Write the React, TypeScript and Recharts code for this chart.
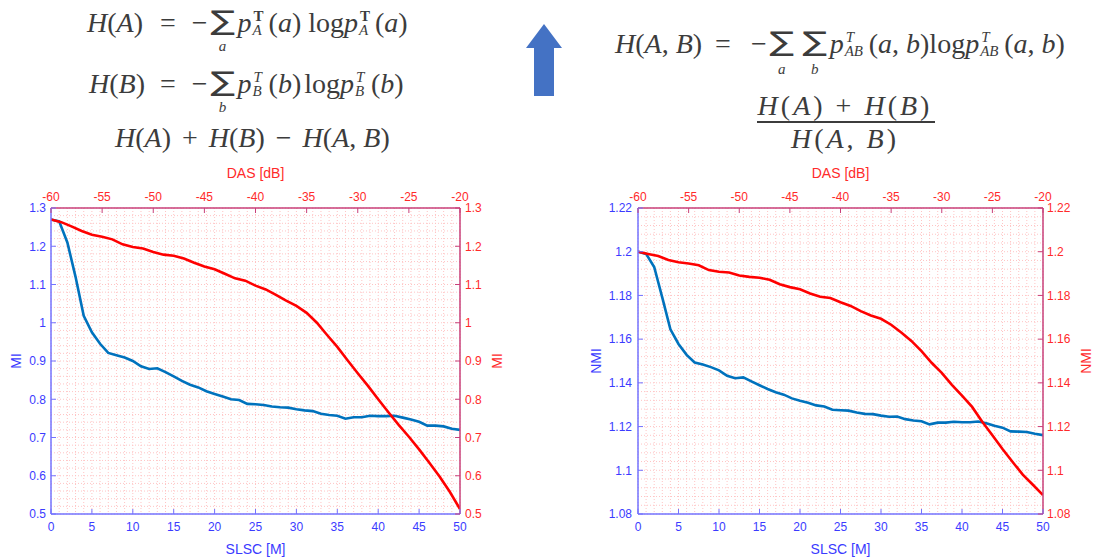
import React from "react";
import { LineChart, Line, XAxis, YAxis, CartesianGrid, Label } from "recharts";

// ---- axis ticks ----
const slscTicks = [0, 5, 10, 15, 20, 25, 30, 35, 40, 45, 50];
const dasTicks = [-60, -55, -50, -45, -40, -35, -30, -25, -20];
const miTicks = [0.5, 0.6, 0.7, 0.8, 0.9, 1, 1.1, 1.2, 1.3];
const nmiTicks = [1.08, 1.1, 1.12, 1.14, 1.16, 1.18, 1.2, 1.22];

// ---- MI panel (left) ----
const miSlscM = [
  0, 1, 2, 3, 4, 5, 6, 7, 8, 9, 10, 11, 12, 13, 14, 15, 16, 17, 18, 19, 20, 21, 22, 23, 24, 25,
  26, 27, 28, 29, 30, 31, 32, 33, 34, 35, 36, 37, 38, 39, 40, 41, 42, 43, 44, 45, 46, 47, 48, 49, 50,
];
const miSlsc = [
  1.27, 1.265, 1.21, 1.12, 1.018, 0.975, 0.945, 0.921, 0.915, 0.909, 0.9, 0.886, 0.879, 0.881,
  0.871, 0.86, 0.848, 0.838, 0.831, 0.821, 0.814, 0.807, 0.8, 0.798, 0.788, 0.787, 0.785, 0.781,
  0.779, 0.778, 0.774, 0.771, 0.769, 0.762, 0.759, 0.757, 0.749, 0.753, 0.753, 0.757, 0.756, 0.756,
  0.757, 0.752, 0.747, 0.741, 0.731, 0.731, 0.729, 0.723, 0.72,
];
const miDasDb = [
  -60, -59, -58, -57, -56, -55, -54, -53, -52, -51, -50, -49, -48, -47, -46, -45, -44, -43, -42,
  -41, -40, -39, -38, -37, -36, -35, -34, -33, -32, -31, -30, -29, -28, -27, -26, -25, -24, -23,
  -22, -21, -20,
];
const miDas = [
  1.27, 1.263, 1.252, 1.24, 1.23, 1.225, 1.218, 1.205, 1.198, 1.194, 1.185, 1.178, 1.175, 1.168,
  1.157, 1.147, 1.14, 1.128, 1.116, 1.11, 1.097, 1.087, 1.073, 1.058, 1.044, 1.026, 1.0, 0.968,
  0.937, 0.902, 0.868, 0.835, 0.8, 0.766, 0.733, 0.702, 0.669, 0.634, 0.598, 0.558, 0.513,
];

// ---- NMI panel (right) ----
const nmiSlscM = miSlscM;
const nmiSlsc = [
  1.2, 1.199, 1.193, 1.179, 1.1645, 1.1578, 1.1528, 1.1493, 1.1484, 1.1472, 1.1457, 1.1432, 1.1421,
  1.1425, 1.1407, 1.1389, 1.1372, 1.1357, 1.1346, 1.1329, 1.1318, 1.1309, 1.1297, 1.1292, 1.1277,
  1.1275, 1.1273, 1.1264, 1.1258, 1.1257, 1.125, 1.1245, 1.1246, 1.1234, 1.1228, 1.1224, 1.121,
  1.1218, 1.1218, 1.1222, 1.122, 1.122, 1.1223, 1.1215, 1.1204, 1.1195, 1.1178, 1.1177, 1.1175,
  1.1167, 1.1161,
];
const nmiDasDb = miDasDb;
const nmiDas = [
  1.2, 1.199, 1.198, 1.1962, 1.1952, 1.1946, 1.1938, 1.1916, 1.1908, 1.1905, 1.1891, 1.1885,
  1.1881, 1.1872, 1.1851, 1.1838, 1.1828, 1.1809, 1.1794, 1.1788, 1.1769, 1.1752, 1.1728, 1.1708,
  1.1693, 1.1666, 1.163, 1.1592, 1.1545, 1.1492, 1.1446, 1.1391, 1.1342, 1.129, 1.1222, 1.116,
  1.1097, 1.1038, 1.098, 1.0934, 1.0887,
];

// minor grid positions (style only)
const steps = (a: number, b: number, s: number) =>
  Array.from({ length: Math.round((b - a) / s) + 1 }, (_, i) => +(a + i * s).toFixed(4));
const slscMinor = steps(0, 50, 1);
const miMinor = steps(0.5, 1.3, 0.02);
const nmiMinor = steps(1.08, 1.22, 0.004);

const rows = (xs: number[], vs: number[]) => xs.map((x, i) => ({ x, v: vs[i] }));

const SANS = '"Liberation Sans", Arial, sans-serif';
const SERIF = '"Liberation Serif", "DejaVu Serif", serif';
const INK = "#3c3c3c";
const BLUE_TXT = "#3b3bff";
const RED_TXT = "#ff2a2a";
const BLUE_AX = "#7373ff";
const RED_AX = "#c8407a";
const GRID = "#ffc4c4";

const fmt = (v: number) => String(+v.toFixed(3));

type Side = "top" | "bottom" | "left" | "right";

function makeTick(side: Side, color: string, lineColor: string, gap: number) {
  const len = 5;
  return (props: any) => {
    const { x = 0, y = 0, payload } = props;
    const text = fmt(payload?.value ?? 0);
    const common = { fill: color, fontSize: 12, fontFamily: SANS };
    if (side === "bottom") {
      const a = y - gap;
      return (
        <g>
          <line x1={x} x2={x} y1={a} y2={a - len} stroke={lineColor} />
          <text x={x} y={y} dy="0.72em" textAnchor="middle" {...common}>{text}</text>
        </g>
      );
    }
    if (side === "top") {
      const a = y + gap;
      return (
        <g>
          <line x1={x} x2={x} y1={a} y2={a + len} stroke={lineColor} />
          <text x={x} y={y} textAnchor="middle" {...common}>{text}</text>
        </g>
      );
    }
    if (side === "left") {
      const a = x + gap;
      return (
        <g>
          <line x1={a} x2={a + len} y1={y} y2={y} stroke={lineColor} />
          <text x={x} y={y} dy="0.36em" textAnchor="end" {...common}>{text}</text>
        </g>
      );
    }
    const a = x - gap;
    return (
      <g>
        <line x1={a} x2={a - len} y1={y} y2={y} stroke={lineColor} />
        <text x={x} y={y} dy="0.36em" textAnchor="start" {...common}>{text}</text>
      </g>
    );
  };
}

type PanelProps = {
  width: number;
  leftW: number;
  rightW: number;
  yTicks: number[];
  yMinor: number[];
  yTitle: string;
  slscRows: { x: number; v: number }[];
  dasRows: { x: number; v: number }[];
  leftTitleOffset: number;
  rightTitleOffset: number;
  leftGap: number;
  rightGap: number;
};

function Panel(p: PanelProps) {
  const domain: [number, number] = [p.yTicks[0], p.yTicks[p.yTicks.length - 1]];
  return (
    <LineChart width={p.width} height={398} margin={{ top: 0, right: 0, bottom: 0, left: 0 }}>
      <CartesianGrid
        xAxisId="slsc"
        yAxisId="left"
        verticalValues={slscMinor}
        horizontalValues={p.yMinor}
        stroke={GRID}
        strokeDasharray="1 2"
      />
      <XAxis
        xAxisId="slsc"
        dataKey="x"
        type="number"
        orientation="bottom"
        domain={[0, 50]}
        ticks={slscTicks}
        interval={0}
        height={44}
        allowDataOverflow
        axisLine={{ stroke: BLUE_AX, strokeWidth: 1.5 }}
        tickLine={false}
        tickSize={0}
        tickMargin={8}
        tick={makeTick("bottom", BLUE_TXT, BLUE_AX, 8)}
      >
        <Label value="SLSC [M]" position="insideBottom" offset={4} fill={BLUE_TXT} fontSize={14} fontFamily={SANS} />
      </XAxis>
      <XAxis
        xAxisId="das"
        dataKey="x"
        type="number"
        orientation="top"
        domain={[-60, -20]}
        ticks={dasTicks}
        interval={0}
        height={48}
        allowDataOverflow
        axisLine={{ stroke: RED_AX, strokeWidth: 1.5 }}
        tickLine={false}
        tickSize={0}
        tickMargin={7}
        tick={makeTick("top", RED_TXT, RED_AX, 7)}
      >
        <Label value="DAS [dB]" position="insideTop" offset={8} fill={RED_TXT} fontSize={14} fontFamily={SANS} />
      </XAxis>
      <YAxis
        yAxisId="left"
        orientation="left"
        width={p.leftW}
        domain={domain}
        ticks={p.yTicks}
        interval={0}
        allowDataOverflow
        axisLine={{ stroke: BLUE_AX, strokeWidth: 1.5 }}
        tickLine={false}
        tickSize={0}
        tickMargin={p.leftGap}
        tick={makeTick("left", BLUE_TXT, BLUE_AX, p.leftGap)}
      >
        <Label
          value={p.yTitle}
          angle={-90}
          position="insideLeft"
          offset={p.leftTitleOffset}
          fill={BLUE_TXT}
          fontSize={14}
          fontFamily={SANS}
          style={{ textAnchor: "middle" }}
        />
      </YAxis>
      <YAxis
        yAxisId="right"
        orientation="right"
        width={p.rightW}
        domain={domain}
        ticks={p.yTicks}
        interval={0}
        allowDataOverflow
        axisLine={{ stroke: RED_AX, strokeWidth: 1.5 }}
        tickLine={false}
        tickSize={0}
        tickMargin={p.rightGap}
        tick={makeTick("right", RED_TXT, RED_AX, p.rightGap)}
      >
        <Label
          value={p.yTitle}
          angle={-90}
          position="insideRight"
          offset={p.rightTitleOffset}
          fill={RED_TXT}
          fontSize={14}
          fontFamily={SANS}
          style={{ textAnchor: "middle" }}
        />
      </YAxis>
      <Line
        xAxisId="slsc"
        yAxisId="left"
        data={p.slscRows}
        dataKey="v"
        stroke="#0072bd"
        strokeWidth={2.6}
        dot={false}
        isAnimationActive={false}
      />
      <Line
        xAxisId="das"
        yAxisId="right"
        data={p.dasRows}
        dataKey="v"
        stroke="#ff0000"
        strokeWidth={2.6}
        dot={false}
        isAnimationActive={false}
      />
    </LineChart>
  );
}

// ---- formula pieces ----
const Gap = ({ w }: { w: number }) => <span style={{ display: "inline-block", width: w }} />;

// zero-height box sitting on the baseline, glyphs placed inside it
function Sum({ under, below = 18 }: { under: string; below?: number }) {
  return (
    <span style={{ position: "relative", display: "inline-block", width: 30, height: 0 }}>
      <span
        style={{
          position: "absolute",
          left: 0,
          width: 30,
          bottom: -1,
          textAlign: "center",
          fontFamily: '"DejaVu Sans", sans-serif',
          fontSize: 27,
          lineHeight: 0.9,
          fontStyle: "normal",
          transform: "scaleX(1.35)",
        }}
      >
        ∑
      </span>
      <span
        style={{
          position: "absolute",
          left: 0,
          width: 30,
          top: below - 11,
          textAlign: "center",
          fontSize: 15,
          lineHeight: 1,
          fontStyle: "italic",
        }}
      >
        {under}
      </span>
    </span>
  );
}

function Scripts({ sup, sub, w, bold }: { sup: string; sub: string; w: number; bold?: boolean }) {
  return (
    <span style={{ position: "relative", display: "inline-block", width: w, height: 0 }}>
      <span
        style={{
          position: "absolute",
          left: 2,
          bottom: 8,
          fontSize: 15,
          lineHeight: 1,
          fontStyle: bold ? "normal" : "italic",
          fontWeight: bold ? "bold" : "normal",
        }}
      >
        {sup}
      </span>
      <span style={{ position: "absolute", left: 1, top: -9, fontSize: 15, lineHeight: 1, fontStyle: "italic" }}>
        {sub}
      </span>
    </span>
  );
}

const lineStyle = (left: number, top: number, spacing = 0): React.CSSProperties => ({
  position: "absolute",
  left,
  top,
  fontFamily: SERIF,
  fontSize: 28,
  lineHeight: 1,
  letterSpacing: spacing,
  color: INK,
  whiteSpace: "nowrap",
});

function Formulas() {
  return (
    <>
      <div style={lineStyle(87, 9)}>
        <i>H</i>(<i>A</i>)<Gap w={17} />=<Gap w={16} />−<Sum under="a" />
        <i>p</i>
        <Scripts sup="T" sub="A" w={17} bold />(<i>a</i>)<Gap w={7} />log<i>p</i>
        <Scripts sup="T" sub="A" w={17} bold />(<i>a</i>)
      </div>
      <div style={lineStyle(89, 70)}>
        <i>H</i>(<i>B</i>)<Gap w={15} />=<Gap w={16} />−<Sum under="b" />
        <i>p</i>
        <Scripts sup="T" sub="B" w={17} />(<i>b</i>)<Gap w={3} />log<i>p</i>
        <Scripts sup="T" sub="B" w={17} />(<i>b</i>)
      </div>
      <div style={lineStyle(115, 124)}>
        <i>H</i>(<i>A</i>)<Gap w={11} />+<Gap w={11} />
        <i>H</i>(<i>B</i>)<Gap w={11} />−<Gap w={11} />
        <i>H</i>(<i>A</i>, <i>B</i>)
      </div>

      <svg style={{ position: "absolute", left: 526, top: 24 }} width={37} height={73}>
        <polygon points="18,0 36,24 28,24 28,72 8,72 8,24 0,24" fill="#4472c4" />
      </svg>

      <div style={lineStyle(615, 30)}>
        <i>H</i>(<i>A</i>, <i>B</i>)<Gap w={13} />=<Gap w={20} />−<Sum under="a" below={20} />
        <Gap w={3} />
        <Sum under="b" below={20} />
        <i>p</i>
        <Scripts sup="T" sub="AB" w={25} />(<i>a</i>, <i>b</i>)log<i>p</i>
        <Scripts sup="T" sub="AB" w={25} />(<i>a</i>, <i>b</i>)
      </div>
      <div style={{ ...lineStyle(752, 92, 3), width: 186, textAlign: "center" }}>
        <i>H</i>(<i>A</i>) + <i>H</i>(<i>B</i>)
      </div>
      <div style={{ position: "absolute", left: 757, top: 121, width: 178, height: 2, background: INK }} />
      <div style={{ ...lineStyle(752, 125, 3), width: 186, textAlign: "center" }}>
        <i>H</i>(<i>A</i>, <i>B</i>)
      </div>
    </>
  );
}

export default function App() {
  return (
    <div
      style={{
        position: "absolute",
        left: 0,
        top: 0,
        width: 1098,
        height: 558,
        background: "#ffffff",
        overflow: "hidden",
      }}
    >
      <Formulas />
      <div style={{ position: "absolute", left: 0, top: 160 }}>
        <Panel
          width={520}
          leftW={51}
          rightW={60}
          yTicks={miTicks}
          yMinor={miMinor}
          yTitle="MI"
          slscRows={rows(miSlscM, miSlsc)}
          dasRows={rows(miDasDb, miDas)}
          leftTitleOffset={16}
          rightTitleOffset={23}
          leftGap={5}
          rightGap={5}
        />
      </div>
      <div style={{ position: "absolute", left: 570, top: 160 }}>
        <Panel
          width={528}
          leftW={68}
          rightW={55}
          yTicks={nmiTicks}
          yMinor={nmiMinor}
          yTitle="NMI"
          slscRows={rows(nmiSlscM, nmiSlsc)}
          dasRows={rows(nmiDasDb, nmiDas)}
          leftTitleOffset={26}
          rightTitleOffset={12}
          leftGap={6}
          rightGap={4}
        />
      </div>
    </div>
  );
}
